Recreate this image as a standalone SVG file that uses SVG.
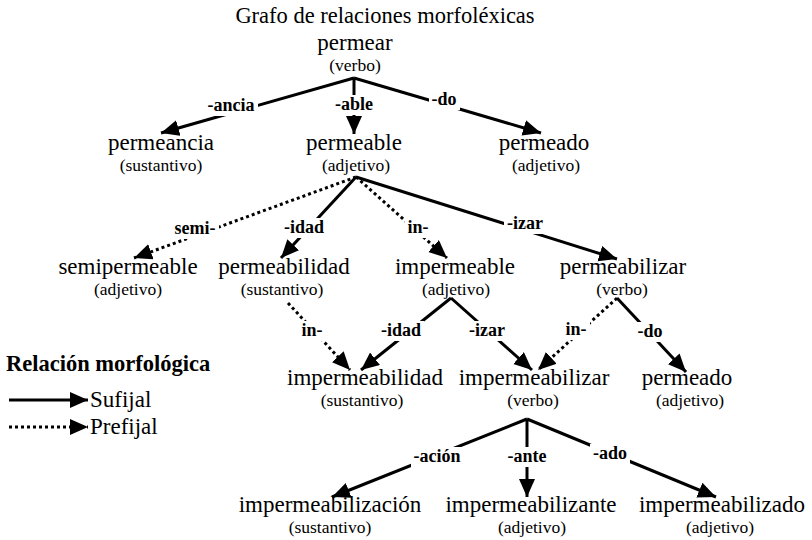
<svg xmlns="http://www.w3.org/2000/svg" width="812" height="540" viewBox="0 0 812 540">
<style>
.bg{fill:#fff}
.title{font-family:"Liberation Serif",serif;font-size:22.5px;fill:#000;text-anchor:middle}
.w{font-family:"Liberation Serif",serif;font-size:23px;fill:#000;text-anchor:middle}
.s{font-family:"Liberation Serif",serif;font-size:17.5px;fill:#000;text-anchor:middle}
.lb{font-family:"Liberation Serif",serif;font-size:18px;font-weight:bold;fill:#000;text-anchor:middle}
.lgt{font-family:"Liberation Serif",serif;font-size:22.5px;font-weight:bold;fill:#000}
.lgi{font-family:"Liberation Serif",serif;font-size:23px;fill:#000}
.suf{stroke:#000;stroke-width:3;fill:none;marker-end:url(#ah)}
.pre{stroke:#000;stroke-width:3;fill:none;stroke-dasharray:3 3;marker-end:url(#ah)}
.lbg{fill:#fff}
</style>
<defs>
<marker id="ah" markerUnits="userSpaceOnUse" markerWidth="19" markerHeight="17" refX="18" refY="8" orient="auto">
<path d="M0,0 L18,8 L0,16 z" fill="#000"/>
</marker>
</defs>
<rect class="bg" x="0" y="0" width="812" height="540"/>
<text class="title" x="385" y="23">Grafo de relaciones morfoléxicas</text>

<g id="connectors">
<line class="suf" x1="354" y1="78" x2="161" y2="133"/>
<line class="suf" x1="354" y1="78" x2="354" y2="134"/>
<line class="suf" x1="354" y1="78" x2="541" y2="133"/>
<line class="pre" x1="356" y1="177" x2="134" y2="258"/>
<line class="suf" x1="356" y1="177" x2="281" y2="258"/>
<line class="pre" x1="356" y1="177" x2="447" y2="258"/>
<line class="suf" x1="356" y1="177" x2="617" y2="259"/>
<line class="pre" x1="288" y1="303" x2="350" y2="370"/>
<line class="suf" x1="451" y1="298" x2="361" y2="370"/>
<line class="suf" x1="451" y1="298" x2="532" y2="370"/>
<line class="pre" x1="617" y1="298" x2="538" y2="370"/>
<line class="suf" x1="617" y1="298" x2="686" y2="372"/>
<line class="suf" x1="527" y1="419" x2="332" y2="497"/>
<line class="suf" x1="527" y1="419" x2="527" y2="497"/>
<line class="suf" x1="527" y1="419" x2="716" y2="497"/>
</g>

<g id="edge-labels">
<rect class="lbg" x="205" y="96" width="53" height="20"/><text class="lb" x="231" y="111">-ancia</text>
<rect class="lbg" x="332" y="95" width="44" height="20"/><text class="lb" x="354" y="110">-able</text>
<rect class="lbg" x="429" y="90" width="31" height="20"/><text class="lb" x="444" y="105">-do</text>
<rect class="lbg" x="172" y="219" width="47" height="20"/><text class="lb" x="195" y="234">semi-</text>
<rect class="lbg" x="282" y="218" width="45" height="20"/><text class="lb" x="304" y="233">-idad</text>
<rect class="lbg" x="405" y="218" width="27" height="20"/><text class="lb" x="418" y="233">in-</text>
<rect class="lbg" x="504" y="214" width="42" height="20"/><text class="lb" x="525" y="229">-izar</text>
<rect class="lbg" x="299" y="321" width="27" height="20"/><text class="lb" x="312" y="336">in-</text>
<rect class="lbg" x="379" y="321" width="45" height="20"/><text class="lb" x="401" y="336">-idad</text>
<rect class="lbg" x="466" y="321" width="42" height="20"/><text class="lb" x="487" y="336">-izar</text>
<rect class="lbg" x="563" y="320" width="27" height="20"/><text class="lb" x="576" y="335">in-</text>
<rect class="lbg" x="635" y="322" width="31" height="20"/><text class="lb" x="650" y="337">-do</text>
<rect class="lbg" x="411" y="447" width="53" height="20"/><text class="lb" x="437" y="462">-ación</text>
<rect class="lbg" x="505" y="447" width="45" height="20"/><text class="lb" x="527" y="462">-ante</text>
<rect class="lbg" x="590" y="444" width="40" height="20"/><text class="lb" x="610" y="459">-ado</text>
</g>

<g id="n-permear"><text class="w" x="355" y="50">permear</text><text class="s" x="355" y="71">(verbo)</text></g>
<g id="n-permeancia"><text class="w" x="161" y="150">permeancia</text><text class="s" x="161" y="171">(sustantivo)</text></g>
<g id="n-permeable"><text class="w" x="354" y="150">permeable</text><text class="s" x="356" y="171">(adjetivo)</text></g>
<g id="n-permeado1"><text class="w" x="544" y="150">permeado</text><text class="s" x="546" y="171">(adjetivo)</text></g>
<g id="n-semipermeable"><text class="w" x="128" y="274">semipermeable</text><text class="s" x="128" y="295">(adjetivo)</text></g>
<g id="n-permeabilidad"><text class="w" x="284" y="274">permeabilidad</text><text class="s" x="282" y="295">(sustantivo)</text></g>
<g id="n-impermeable"><text class="w" x="455" y="274">impermeable</text><text class="s" x="456" y="295">(adjetivo)</text></g>
<g id="n-permeabilizar"><text class="w" x="623" y="274">permeabilizar</text><text class="s" x="622" y="295">(verbo)</text></g>
<g id="n-impermeabilidad"><text class="w" x="365" y="385">impermeabilidad</text><text class="s" x="362" y="406">(sustantivo)</text></g>
<g id="n-impermeabilizar"><text class="w" x="534" y="385">impermeabilizar</text><text class="s" x="533" y="406">(verbo)</text></g>
<g id="n-permeado2"><text class="w" x="687" y="385">permeado</text><text class="s" x="690" y="406">(adjetivo)</text></g>
<g id="n-impermeabilizacion"><text class="w" x="330" y="512">impermeabilización</text><text class="s" x="330" y="533">(sustantivo)</text></g>
<g id="n-impermeabilizante"><text class="w" x="531" y="512">impermeabilizante</text><text class="s" x="532" y="533">(adjetivo)</text></g>
<g id="n-impermeabilizado"><text class="w" x="722" y="512">impermeabilizado</text><text class="s" x="720" y="533">(adjetivo)</text></g>

<g id="legend">
<text class="lgt" x="6" y="371">Relación morfológica</text>
<line class="suf" x1="9" y1="400" x2="88" y2="400"/>
<text class="lgi" x="90" y="407">Sufijal</text>
<line class="pre" x1="9" y1="427" x2="88" y2="427"/>
<text class="lgi" x="90" y="434">Prefijal</text>
</g>
</svg>
